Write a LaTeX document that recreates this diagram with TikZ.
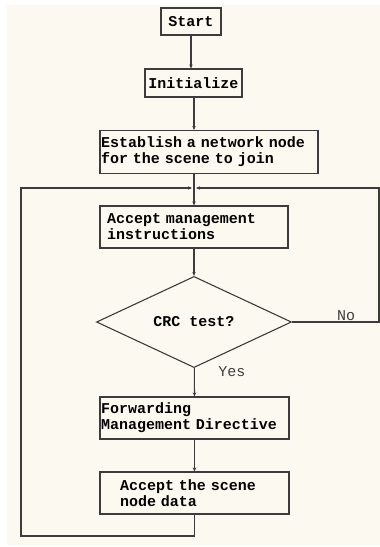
\documentclass[tikz,border=0pt]{standalone}
\usepackage{fontspec}
\setmonofont{Liberation Mono}
\usetikzlibrary{
  shapes.geometric,
  arrows.meta,
  positioning,
  calc
}
\definecolor{flowgray}{RGB}{60,60,60}
\definecolor{papercream}{RGB}{252,250,240}

\begin{document}
\begin{tikzpicture}[
  x=1pt, y=-1pt,
  box/.style={
    rectangle, draw=flowgray, line width=1.1pt,
    font=\ttfamily\bfseries\fontsize{15}{16}\selectfont
  },
  test/.style={
    diamond, draw=flowgray, line width=1.1pt, inner sep=0pt,
    font=\ttfamily\bfseries\fontsize{15}{16}\selectfont
  },
  flow/.style={-{Stealth[length=4pt,width=3.5pt]}, line width=1.1pt, flowgray},
  lbl/.style={font=\ttfamily\fontsize{15}{16}\selectfont, text=flowgray}
]
  % page
  \useasboundingbox (0,0) rectangle (380,547);
  \fill[papercream] (7,5) rectangle (380,545);

  % boxes
  \node[box, minimum width=60pt, minimum height=27pt] (start) at (191,21.5) {Start};
  \node[box, minimum width=97pt, minimum height=28pt, inner xsep=1pt] (init) at (193.5,83) {Initialize};
  \node[box, minimum height=43pt, inner xsep=1pt, text width=216pt, align=left] (estab) at (209,152)
    {Establish a network node\\for the scene to join};
  \node[box, minimum height=42pt, inner xsep=7pt, text width=174pt, align=left] (accept) at (194,227)
    {Accept management\\instructions};
  \node[test, minimum width=195pt, minimum height=82pt] (crc) at (194,322) {CRC test?};
  \node[box, minimum height=42pt, inner xsep=1pt, text width=187pt, align=left] (fwd) at (194.5,418)
    {Forwarding\\Management Directive};
  \node[box, minimum height=42pt, inner xsep=20pt, text width=149pt, align=left] (scene) at (194.5,493)
    {Accept the scene\\node data};

  % loop corners
  \coordinate (join) at (194,188);
  \coordinate (loopbl) at (21,536);
  \coordinate (looptl) at (21,188);
  \coordinate (looptr) at (379,188);

  % main line
  \draw[flow] (start) -- (start |- init.north);
  \draw[flow] (init.south -| accept.north) -- (estab.north -| accept.north);
  \draw[flow] (estab.south -| accept.north) -- (accept.north);
  \draw[flow] (accept) -- (crc.north);
  \draw[flow] (crc) -- (fwd.north);
  \draw[flow] (fwd) -- (scene.north);

  % loops
  \draw[flow, shorten >=2pt] (scene.south) |- (loopbl) -- (looptl) -- (join);
  \draw[flow, shorten >=2pt] (crc.east) -| (looptr) -- (join);

  % labels
  \node[lbl] (no) at (346,316) {No};
  \node[lbl] (yes) at (232,372) {Yes};
\end{tikzpicture}
\end{document}
